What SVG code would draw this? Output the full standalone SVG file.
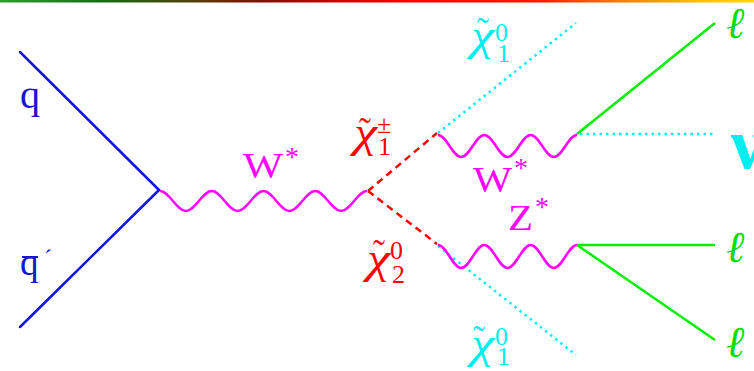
<svg xmlns="http://www.w3.org/2000/svg" width="754" height="371" viewBox="0 0 754 371">
<defs>
<linearGradient id="bar" x1="0" y1="0" x2="754" y2="0" gradientUnits="userSpaceOnUse">
<stop offset="0" stop-color="#2e9e2e"/>
<stop offset="0.14" stop-color="#176b17"/>
<stop offset="0.27" stop-color="#5a3a08"/>
<stop offset="0.35" stop-color="#8a0808"/>
<stop offset="0.45" stop-color="#d00000"/>
<stop offset="0.55" stop-color="#ff0000"/>
<stop offset="0.72" stop-color="#ff1a00"/>
<stop offset="0.82" stop-color="#ff7a00"/>
<stop offset="0.93" stop-color="#ffc000"/>
<stop offset="1" stop-color="#ffd600"/>
</linearGradient>
<style>
.quark{stroke:#1414e0;stroke-width:2.5;fill:none;stroke-linecap:round}
.boson{stroke:#ff00ff;stroke-width:2.5;fill:none}
.chargino{stroke:#ff0000;stroke-width:2.5;fill:none;stroke-dasharray:7 5}
.lsp{stroke:#00f0f0;stroke-width:2.5;fill:none;stroke-dasharray:2.5 4}
.lepton{stroke:#00ee00;stroke-width:2.5;fill:none}
text{font-family:"Liberation Serif","Times New Roman",serif}
.lq{fill:#1818c8}
.lw{fill:#ff00ff;font-size:36px}
.ast{fill:#ff00ff;font-size:28px}
.red{fill:#ff0000}
.cyan{fill:#00eeee}
.chi{font-size:44px;font-style:italic}
.til{font-size:36px}
.sub{font-size:26px}
.ll{fill:#00e000;font-size:44px;font-family:"DejaVu Serif",serif;font-style:italic}
</style>
</defs>
<rect x="0" y="0" width="754" height="2.5" fill="url(#bar)"/>
<g id="connectors">
<line class="quark" x1="20" y1="52" x2="159" y2="190"/>
<line class="quark" x1="20" y1="327" x2="159" y2="190"/>
<path class="boson" d="M160,191 C169.42,191 176.45,211 185.88,211 S202.33,191 211.75,191 S228.2,211 237.63,211 S254.08,191 263.5,191 S279.95,211 289.38,211 S305.83,191 315.25,191 S331.7,211 341.13,211 S357.58,191 367,191"/>
<line class="chargino" x1="368" y1="191" x2="437" y2="133"/>
<line class="chargino" x1="368" y1="191" x2="437" y2="244"/>
<line class="lsp" x1="438" y1="133" x2="576" y2="23"/>
<line class="lsp" x1="438" y1="246" x2="576" y2="355"/>
<path class="boson" d="M438,135 C446.44,135 452.73,157 461.17,157 S475.89,135 484.33,135 S499.06,157 507.5,157 S522.23,135 530.67,135 S545.39,157 553.83,157 S568.56,135 577,135"/>
<path class="boson" d="M438,245 C446.44,245 452.73,268 461.17,268 S475.89,245 484.33,245 S499.06,268 507.5,268 S522.23,245 530.67,245 S545.39,268 553.83,268 S568.56,245 577,245"/>
<line class="lepton" x1="577" y1="134" x2="715" y2="23"/>
<line class="lsp" x1="580" y1="134" x2="713" y2="134"/>
<line class="lepton" x1="577" y1="245" x2="715" y2="245"/>
<line class="lepton" x1="577" y1="245" x2="715" y2="340"/>
</g>
<g id="q">
<text class="lq" x="20" y="108" font-size="40">q</text>
</g>
<g id="qbar">
<text class="lq" x="20" y="275" font-size="37">q</text>
<line x1="22" y1="257" x2="38" y2="257" stroke="#1818c8" stroke-width="2"/>
<text class="lq" x="44" y="266" font-size="24">´</text>
</g>
<g id="wstar1">
<text class="lw" x="243" y="178" textLength="40" lengthAdjust="spacingAndGlyphs">W</text>
<text class="ast" x="285" y="166">*</text>
</g>
<g id="chargino1">
<text class="red til" x="359" y="143">˜</text>
<text class="red chi" x="354" y="147" textLength="23" lengthAdjust="spacingAndGlyphs">χ</text>
<text class="red sub" x="377" y="133">±</text>
<text class="red sub" x="378" y="155">1</text>
</g>
<g id="neutralino2">
<text class="red til" x="373" y="265">˜</text>
<text class="red chi" x="367" y="273" textLength="23" lengthAdjust="spacingAndGlyphs">χ</text>
<text class="red sub" x="390" y="259">0</text>
<text class="red sub" x="392" y="283">2</text>
</g>
<g id="neutralino1top">
<text class="cyan til" x="477" y="43">˜</text>
<text class="cyan chi" x="471" y="50" textLength="23" lengthAdjust="spacingAndGlyphs">χ</text>
<text class="cyan sub" x="495" y="41">0</text>
<text class="cyan sub" x="497" y="62">1</text>
</g>
<g id="neutralino1bot">
<text class="cyan til" x="473" y="351">˜</text>
<text class="cyan chi" x="471" y="358" textLength="23" lengthAdjust="spacingAndGlyphs">χ</text>
<text class="cyan sub" x="495" y="345">0</text>
<text class="cyan sub" x="497" y="365">1</text>
</g>
<g id="wstar2">
<text class="lw" x="473" y="192" textLength="39" lengthAdjust="spacingAndGlyphs">W</text>
<text class="ast" x="514" y="177">*</text>
</g>
<g id="zstar">
<text class="lw" x="508" y="230" textLength="25" lengthAdjust="spacingAndGlyphs">Z</text>
<text class="ast" x="535" y="216">*</text>
</g>
<g id="lep1"><text class="ll" x="726" y="38">ℓ</text></g>
<g id="nu"><text class="cyan" x="731" y="168" font-size="72" font-weight="bold">ν</text></g>
<g id="lep2"><text class="ll" x="726" y="262">ℓ</text></g>
<g id="lep3"><text class="ll" x="726" y="357">ℓ</text></g>
</svg>
